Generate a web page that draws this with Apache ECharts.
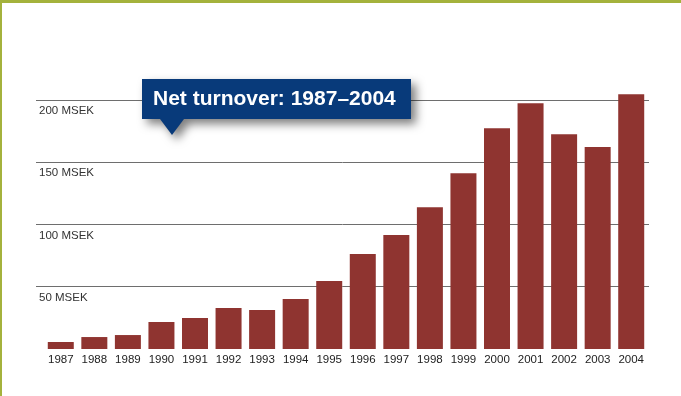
<!DOCTYPE html>
<html>
<head>
<meta charset="utf-8">
<script src="https://cdn.jsdelivr.net/npm/echarts@6/dist/echarts.min.js"></script>
<style>
  html, body { margin: 0; padding: 0; background: #ffffff; }
  #chart { width: 681px; height: 396px; }
</style>
</head>
<body>
<div id="chart"></div>
<script>
// Net turnover per year, MSEK
const years = ['1987', '1988', '1989', '1990', '1991', '1992', '1993', '1994', '1995',
  '1996', '1997', '1998', '1999', '2000', '2001', '2002', '2003', '2004'];
const turnover = [5.6, 9.6, 11.2, 21.7, 24.9, 32.9, 31.3, 40.1, 54.6,
  76.2, 91.5, 113.9, 141.2, 177.3, 197.4, 172.5, 162.1, 204.6];
const yTicks = [50, 100, 150, 200];
const unit = 'MSEK';
const title = 'Net turnover: 1987\u20132004';

const FONT = '"Liberation Sans", Arial, sans-serif';
const Y_MAX = 220;

const chart = echarts.init(document.getElementById('chart'), null, { renderer: 'canvas' });

chart.setOption({
  animation: false,
  backgroundColor: '#ffffff',
  grid: [
    // grid 0 carries the horizontal rules and their labels
    { left: 36, right: 32, top: 75, bottom: 47 },
    // grid 1 carries the bars
    { left: 44, right: 33, top: 75, bottom: 47 }
  ],
  xAxis: [
    { gridIndex: 0, type: 'category', data: years, show: false },
    {
      gridIndex: 1, type: 'category', data: years,
      axisLine: { show: false }, axisTick: { show: false },
      axisLabel: { color: '#222', fontFamily: FONT, fontSize: 11.5, margin: 5, interval: 0 }
    }
  ],
  yAxis: [
    {
      gridIndex: 0, type: 'value', min: 0, max: Y_MAX, interval: 50,
      axisLine: { show: false }, axisTick: { show: false },
      splitLine: { show: true, showMinLine: false, showMaxLine: false,
        lineStyle: { color: '#6e6e6e', width: 1 } },
      axisLabel: {
        inside: true, margin: 3, align: 'left', verticalAlign: 'top',
        padding: [5, 0, 0, 0],
        color: '#333', fontFamily: FONT, fontSize: 11.5,
        showMinLabel: false, showMaxLabel: false,
        formatter: v => (yTicks.indexOf(v) >= 0 ? v + ' ' + unit : '')
      }
    },
    { gridIndex: 1, type: 'value', min: 0, max: Y_MAX, show: false, splitLine: { show: false } }
  ],
  series: [
    {
      type: 'bar', xAxisIndex: 1, yAxisIndex: 1,
      data: turnover, barWidth: 26,
      itemStyle: { color: '#8f3430' },
      z: 3
    }
  ],
  graphic: [
    // green frame on top and left edges
    { type: 'rect', left: 0, top: 0, z: 50, shape: { width: 681, height: 3 }, style: { fill: '#a4b23c' } },
    { type: 'rect', left: 0, top: 0, z: 50, shape: { width: 2, height: 396 }, style: { fill: '#a4b23c' } },
    // title callout: box with a pointer at its lower edge
    {
      type: 'polygon', z: 100,
      shape: { points: [[142, 79], [411, 79], [411, 119], [184, 119], [172, 135], [160, 119], [142, 119]] },
      style: {
        fill: '#083a7a',
        shadowBlur: 10, shadowOffsetX: 5, shadowOffsetY: 5,
        shadowColor: 'rgba(0,0,0,0.5)'
      }
    },
    {
      type: 'text', x: 153, y: 99, z: 101,
      style: {
        text: title, fill: '#ffffff',
        font: 'bold 21px ' + FONT,
        verticalAlign: 'middle', align: 'left'
      }
    }
  ]
});
</script>
</body>
</html>
